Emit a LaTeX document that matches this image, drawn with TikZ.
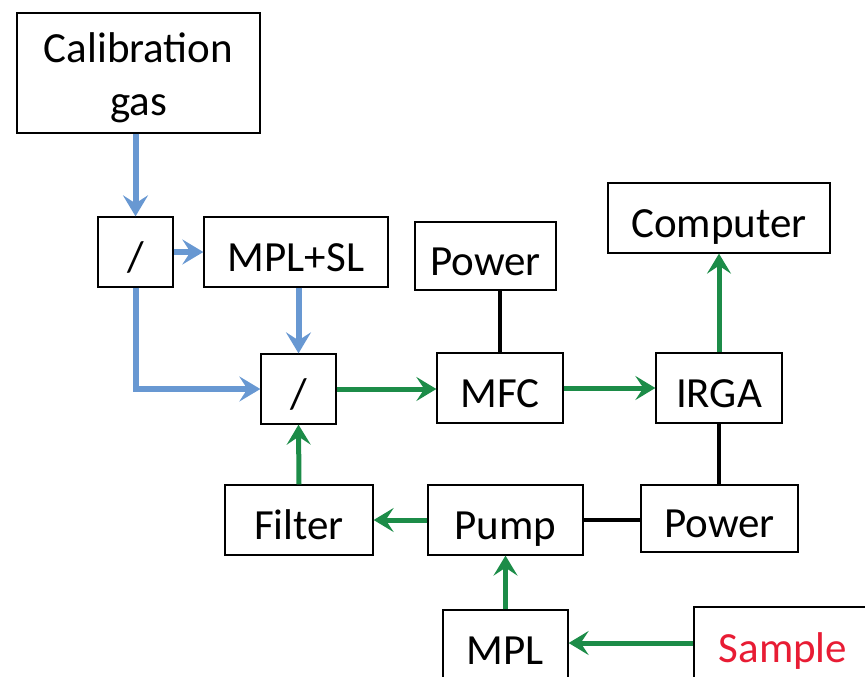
\documentclass[tikz,border=0pt]{standalone}
\usepackage{fontspec}
\setmainfont{Carlito}
\usetikzlibrary{arrows.meta}
\definecolor{gasblue}{RGB}{104,152,210}
\definecolor{flowgreen}{RGB}{28,140,72}
\definecolor{samplered}{RGB}{232,28,52}

\begin{document}
\begin{tikzpicture}[x=1pt,y=-1pt,
  font=\fontsize{43}{53}\selectfont,
  unit/.style={draw=black,line width=1.3pt,fill=white,inner sep=0pt,align=center,
    text height=42pt,text depth=4pt},
  gasline/.style={draw=gasblue,line width=6pt,-{Stealth[length=21pt,width=25pt,inset=8pt]}},
  flowline/.style={draw=flowgreen,line width=5pt,-{Stealth[length=20pt,width=24pt,inset=8pt]}},
  wire/.style={draw=black,line width=4.2pt}]
 \useasboundingbox (0,0) rectangle (865,677);
 \clip (0,0) rectangle (865,677);
 % units
 \node[unit,minimum width=243pt,minimum height=120pt,text height=92pt,text depth=8pt] (cal) at (138.5,73) {Calibration\\gas};
 \node[unit,minimum width=75pt,minimum height=70pt] (vone) at (135.5,252) {/};
 \node[unit,minimum width=184pt,minimum height=70pt] (mplsl) at (296,252) {MPL+SL};
 \node[unit,minimum width=141pt,minimum height=68pt] (pwrtop) at (485.5,256) {Power};
 \node[unit,minimum width=222pt,minimum height=70pt] (comp) at (719,218) {Computer};
 \node[unit,minimum width=75pt,minimum height=70pt] (vtwo) at (298.5,389) {/};
 \node[unit,minimum width=126pt,minimum height=70pt] (mfc) at (500,388) {MFC};
 \node[unit,minimum width=126pt,minimum height=70pt] (irga) at (719,388) {IRGA};
 \node[unit,minimum width=148pt,minimum height=70pt] (filter) at (299,520) {Filter};
 \node[unit,minimum width=155pt,minimum height=70pt] (pump) at (505.5,520) {Pump};
 \node[unit,minimum width=157pt,minimum height=67pt] (pwrbot) at (719.5,518.5) {Power};
 \node[unit,minimum width=125pt,minimum height=70pt] (mpl) at (505.5,645) {MPL};
 \node[unit,minimum width=178pt,minimum height=72pt,text=samplered] (sample) at (783,643) {Sample};
 % calibration gas
 \draw[gasline] (cal.south -| vone.north) -- (vone.north);
 \draw[gasline] (vone.east) -- (mplsl.west);
 \draw[gasline] (mplsl.south -| vtwo.north) -- (vtwo.north);
 \draw[gasline] (vone.south) |- (vtwo.west);
 % sample flow
 \draw[flowline] (vtwo.east) -- (vtwo.east -| mfc.west);
 \draw[flowline] (mfc.east) -- (irga.west);
 \draw[flowline] (irga.north) -- (comp.south);
 \draw[flowline] (pump.west) -- (filter.east);
 \draw[flowline] (filter.north) -- (vtwo.south);
 \draw[flowline] (mpl.north) -- (pump.south);
 \draw[flowline] (sample.west) -- (sample.west -| mpl.east);
 % power
 \draw[wire] (pwrtop.south -| mfc.north) -- (mfc.north);
 \draw[wire] (irga.south) -- (pwrbot.north -| irga.south);
 \draw[wire] (pump.east) -- (pump.east -| pwrbot.west);
\end{tikzpicture}
\end{document}
